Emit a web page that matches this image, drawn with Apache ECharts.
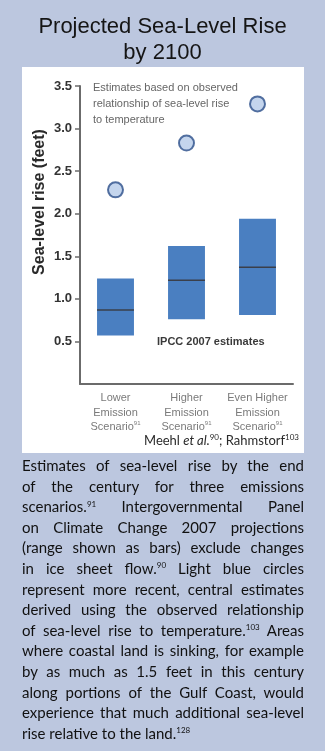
<!DOCTYPE html>
<html>
<head>
<meta charset="utf-8">
<script src="https://cdn.jsdelivr.net/npm/echarts@6/dist/echarts.min.js"></script>
<style>
  html, body { margin: 0; padding: 0; background: #bcc7df; }
  #wrap { position: relative; width: 325px; height: 751px; overflow: hidden; }
  #chart { position: absolute; left: 0; top: 0; width: 325px; height: 751px; }
  #caption { position: absolute; left: 22px; top: 455px; width: 282px;
    font-family: "Lato", "Open Sans", sans-serif; font-size: 15px; line-height: 20.6px; color: #111; }
  #caption div { text-align: justify; text-align-last: justify; white-space: normal; }
  #caption div.last { text-align-last: left; }
  .sp { font-size: 8px; position: relative; top: -0.7em; line-height: 0; }
</style>
</head>
<body>
<div id="wrap">
  <div id="chart"></div>
  <div id="caption">
    <div>Estimates of sea-level rise by the end</div>
    <div>of the century for three emissions</div>
    <div>scenarios.<span class="sp">91</span> Intergovernmental Panel</div>
    <div>on Climate Change 2007 projections</div>
    <div>(range shown as bars) exclude changes</div>
    <div>in ice sheet flow.<span class="sp">90</span> Light blue circles</div>
    <div>represent more recent, central estimates</div>
    <div>derived using the observed relationship</div>
    <div>of sea-level rise to temperature.<span class="sp">103</span> Areas</div>
    <div>where coastal land is sinking, for example</div>
    <div>by as much as 1.5 feet in this century</div>
    <div>along portions of the Gulf Coast, would</div>
    <div>experience that much additional sea-level</div>
    <div class="last">rise relative to the land.<span class="sp">128</span></div>
  </div>
</div>
<script>
// ---- data ----
const categories = ['Lower\nEmission\nScenario', 'Higher\nEmission\nScenario', 'Even Higher\nEmission\nScenario'];
const scenarioRef = '91';
const ipccLow = [0.57, 0.76, 0.81];
const ipccHigh = [1.24, 1.62, 1.94];
const ipccMid = [0.87, 1.22, 1.37];
const observedEstimates = [2.28, 2.83, 3.29];
const yTicks = [0.5, 1.0, 1.5, 2.0, 2.5, 3.0, 3.5];

const chart = echarts.init(document.getElementById('chart'), null, { renderer: 'canvas' });

const option = {
  backgroundColor: '#bcc7df',
  animation: false,
  title: {
    text: 'Projected Sea-Level Rise\nby 2100',
    left: 'center',
    top: 9,
    textStyle: { fontFamily: 'Arial, Liberation Sans', fontSize: 22, fontWeight: 'normal', lineHeight: 26, color: '#151515' }
  },
  graphic: [
    { type: 'rect', z: -10, shape: { x: 22, y: 67, width: 282, height: 386 }, style: { fill: '#ffffff' } },
    { type: 'text', x: 40, y: 202, rotation: Math.PI / 2,
      style: { text: 'Sea-level rise (feet)', font: 'bold 16px Arial, Liberation Sans', fill: '#2a2a2a', align: 'center', verticalAlign: 'middle' } },
    { type: 'text', x: 93, y: 80,
      style: { text: 'Estimates based on observed\nrelationship of sea-level rise\nto temperature', font: '11px Arial, Liberation Sans', lineHeight: 16, fill: '#666666' } },
    { type: 'text', x: 157, y: 336,
      style: { text: 'IPCC 2007 estimates', font: 'bold 11px Arial, Liberation Sans', fill: '#3a3a3a' } },
    { type: 'text', x: 299, y: 441,
      style: {
        text: '{n|Meehl }{i|et al.}{s|90}{n|; Rahmstorf}{s|103}',
        align: 'right', verticalAlign: 'middle',
        rich: {
          n: { fontFamily: 'Lato, sans-serif', fontSize: 13, fill: '#2a2a2a' },
          i: { fontFamily: 'Lato, sans-serif', fontSize: 13, fontStyle: 'italic', fill: '#2a2a2a' },
          s: { fontFamily: 'Lato, sans-serif', fontSize: 8, fill: '#2a2a2a', verticalAlign: 'top', padding: [0, 0, 8, 0] }
        }
      } }
  ],
  grid: { left: 80, right: 32, top: 86, bottom: 367, containLabel: false },
  xAxis: {
    type: 'category',
    data: categories,
    boundaryGap: true,
    axisLine: { show: true, lineStyle: { color: '#6b6b6b', width: 2 } },
    axisTick: { show: false },
    axisLabel: {
      interval: 0,
      margin: 7,
      color: '#7a7a7a',
      fontFamily: 'Arial, Liberation Sans',
      fontSize: 11,
      lineHeight: 14.5,
      formatter: function (v) { return v + '{sup|' + scenarioRef + '}'; },
      rich: { sup: { fontSize: 6, color: '#7a7a7a', verticalAlign: 'top', padding: [0, 0, 6, 0] } }
    }
  },
  yAxis: {
    type: 'value',
    min: 0,
    max: 3.5,
    interval: 0.5,
    axisLine: { show: true, lineStyle: { color: '#6b6b6b', width: 2 } },
    axisTick: { show: true, inside: false, length: 5, lineStyle: { color: '#6b6b6b', width: 1.5 }, customValues: yTicks },
    splitLine: { show: false },
    axisLabel: {
      customValues: yTicks,
      margin: 8,
      color: '#333333',
      fontFamily: 'Arial, Liberation Sans',
      fontSize: 13,
      fontWeight: 'bold',
      formatter: function (v) { return v.toFixed(1); }
    }
  },
  series: [
    {
      type: 'custom',
      name: 'IPCC 2007 estimates',
      data: categories.map(function (c, i) { return [i, ipccLow[i], ipccHigh[i], ipccMid[i]]; }),
      encode: { x: 0, y: [1, 2, 3] },
      renderItem: function (params, api) {
        const i = api.value(0);
        const lo = api.coord([i, api.value(1)]);
        const hi = api.coord([i, api.value(2)]);
        const mid = api.coord([i, api.value(3)]);
        const w = api.size([1, 0])[0] * 0.52;
        return {
          type: 'group',
          children: [
            { type: 'rect', shape: { x: lo[0] - w / 2, y: hi[1], width: w, height: lo[1] - hi[1] },
              style: { fill: '#4a7fc1' } },
            { type: 'line', shape: { x1: lo[0] - w / 2, y1: mid[1], x2: lo[0] + w / 2, y2: mid[1] },
              style: { stroke: '#3a3f4a', lineWidth: 1.5 } }
          ]
        };
      }
    },
    {
      type: 'scatter',
      name: 'Observed relationship estimates',
      data: observedEstimates,
      symbol: 'circle',
      symbolSize: 15,
      itemStyle: { color: '#b5cae8', borderColor: '#2c4f8a', borderWidth: 2 },
      z: 5
    }
  ]
};
chart.setOption(option);
</script>
</body>
</html>
